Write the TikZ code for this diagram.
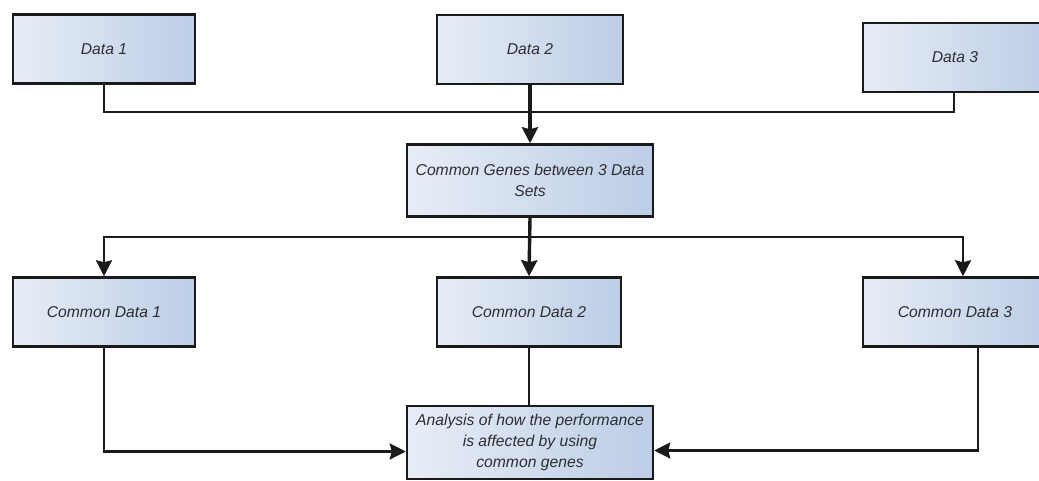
\documentclass[tikz,border=0pt]{standalone}
\usepackage{fontspec}
\setmainfont{Liberation Sans}
\usetikzlibrary{arrows.meta}
\definecolor{boxleft}{HTML}{E7EDF6}
\definecolor{boxright}{HTML}{BCCDE6}
\definecolor{edge}{HTML}{1A1A1A}
\definecolor{ink}{HTML}{2E2E33}
\begin{document}
\begin{tikzpicture}[x=1pt,y=-1pt,
  box/.style={draw=edge,line width=2.5pt,left color=boxleft,right color=boxright,
    text=ink,font=\fontsize{15.7}{21}\selectfont\itshape,align=center,
    inner sep=0pt,minimum height=69pt},
  wire/.style={draw=edge,line width=2.4pt},
  heavy/.style={draw=edge,line width=3.4pt},
  tip/.style={-{Stealth[length=16pt,width=16pt,inset=2pt]}}]
\useasboundingbox (0,0) rectangle (1039,480);

% source data sets
\node[box,minimum width=182pt] (d1) at (104,49) {Data 1};
\node[box,minimum width=186pt] (d2) at (530,49.5) {Data 2};
\node[box,minimum width=184pt] (d3) at (955,57.5) {Data 3};

% intersection step
\node[box,minimum width=246pt,minimum height=72pt] (cg) at (530,180.5)
  {Common Genes between 3 Data\\Sets};

% common subsets
\node[box,minimum width=182pt] (cd1) at (104,312) {Common Data 1};
\node[box,minimum width=184pt] (cd2) at (529,312) {Common Data 2};
\node[box,minimum width=184pt] (cd3) at (955,312) {Common Data 3};

% final analysis
\node[box,minimum width=246pt,minimum height=73pt] (an) at (530,442.5)
  {Analysis of how the performance\\is affected by using\\common genes};

% upper bus
\coordinate (bus1) at (530,112);
\draw[wire,line join=miter] (d1.south) |- (bus1) -| ([xshift=-1pt]d3.south);
\draw[heavy,tip] (d2.south) -- (cg.north);

% lower bus
\coordinate (bus2) at (530,237);
\draw[heavy,tip] (cg.south) -- (cd2.north);
\draw[wire,tip] (bus2) -| (cd1.north);
\draw[wire,tip] (bus2) -| ([xshift=8pt]cd3.north);

% into the analysis
\draw[wire,tip] (cd1.south) |- ([yshift=-9pt]an.west);
\draw[wire,tip] ([xshift=23pt]cd3.south) |- ([yshift=-8pt]an.east);
\draw[wire] (cd2.south) -- (cd2.south |- an.north);
\end{tikzpicture}
\end{document}
